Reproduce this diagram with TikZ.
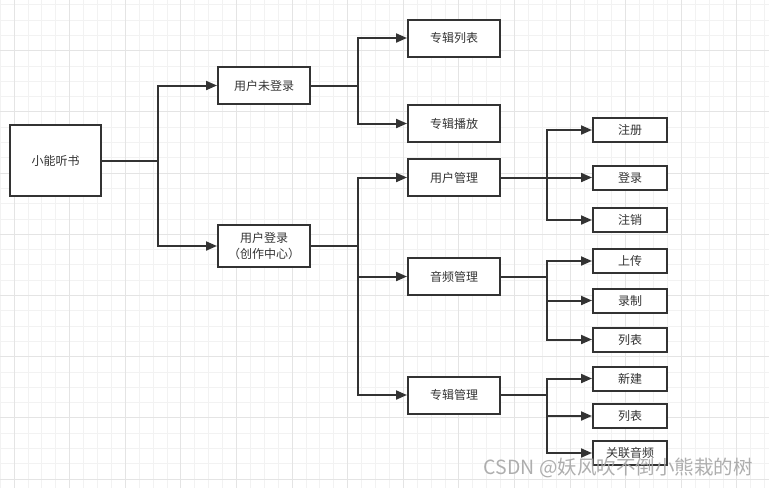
\documentclass[tikz,border=0pt]{standalone}
\usepackage{fontspec}
\setmainfont{Noto Sans CJK SC}
\usetikzlibrary{arrows.meta}
\definecolor{ink}{HTML}{333333}
\definecolor{gminor}{HTML}{F2F2F2}
\definecolor{gmajor}{HTML}{E4E4E4}
\definecolor{wmark}{HTML}{A6A6A6}
\tikzset{
  boxbase/.style={draw=ink, line width=2pt, fill=white, inner sep=0pt, text=ink,
    font=\fontsize{12}{16.5}\selectfont, align=center},
  lvlA/.style={boxbase, minimum width=92pt, minimum height=37pt},
  lvlB/.style={boxbase, minimum width=74pt, minimum height=24pt},
  conn/.style={draw=ink, line width=2pt, -{Triangle[length=11pt,width=9pt]}},
  gridminor/.style={draw=gminor, line width=1pt},
  gridmajor/.style={draw=gmajor, line width=1pt},
}
\begin{document}
\begin{tikzpicture}[x=1pt,y=-1pt]
\useasboundingbox (0,0) rectangle (769,488);
\fill[white] (0,0) rectangle (769,488);
% grid
\foreach \k in {0,...,55} \draw[gridminor] ({0.2+13.9*\k},0) -- ({0.2+13.9*\k},488);
\foreach \k in {0,...,31} \draw[gridminor] (0,{4.8+15.3*\k}) -- (769,{4.8+15.3*\k});
\foreach \k in {0,...,13} \draw[gridmajor] ({14.1+55.6*\k},0) -- ({14.1+55.6*\k},488);
\foreach \k in {0,...,7} \draw[gridmajor] (0,{50.7+61.2*\k}) -- (769,{50.7+61.2*\k});

% nodes
\node[boxbase, minimum width=91pt, minimum height=71pt] (root) at (55.5,160.5) {小能听书};
\node[lvlA] (u1) at (264,85.5) {用户未登录};
\node[boxbase, minimum width=92pt, minimum height=42pt] (u2) at (264,246) {用户登录\\（创作中心）};

\node[lvlA] (a1) at (454,38) {专辑列表};
\node[lvlA] (a2) at (454,123.5) {专辑播放};
\node[lvlA] (m1) at (454,177.5) {用户管理};
\node[lvlA] (m2) at (454,276.5) {音频管理};
\node[lvlA] (m3) at (454,395) {专辑管理};

\node[lvlB] (c1) at (630,130) {注册};
\node[lvlB] (c2) at (630,177.5) {登录};
\node[lvlB] (c3) at (630,220) {注销};
\node[lvlB] (d1) at (630,261) {上传};
\node[lvlB] (d2) at (630,300.5) {录制};
\node[lvlB] (d3) at (630,339.5) {列表};
\node[lvlB] (e1) at (630,378.5) {新建};
\node[lvlB] (e2) at (630,416) {列表};
\node[lvlB] (e3) at (630,453) {关联音频};

% connectors
\draw[conn] (root.east) -- ++(56,0) |- (u1.west);
\draw[conn] (root.east) -- ++(56,0) |- (u2.west);

\draw[conn] (u1.east) -- ++(47,0) |- (a1.west);
\draw[conn] (u1.east) -- ++(47,0) |- (a2.west);

\draw[conn] (u2.east) -- ++(47,0) |- (m1.west);
\draw[conn] (u2.east) -- ++(47,0) |- (m2.west);
\draw[conn] (u2.east) -- ++(47,0) |- (m3.west);

\foreach \c in {c1,c2,c3} \draw[conn] (m1.east) -- ++(46,0) |- (\c.west);
\foreach \c in {d1,d2,d3} \draw[conn] (m2.east) -- ++(46,0) |- (\c.west);
\foreach \c in {e1,e2,e3} \draw[conn] (m3.east) -- ++(46,0) |- (\c.west);

% watermark
\node[anchor=east, inner sep=0pt, text=wmark, opacity=0.9, font=\fontsize{19.5}{22}\selectfont] (wm) at (753,468) {CSDN @妖风吹不倒小熊栽的树};
\end{tikzpicture}
\end{document}
